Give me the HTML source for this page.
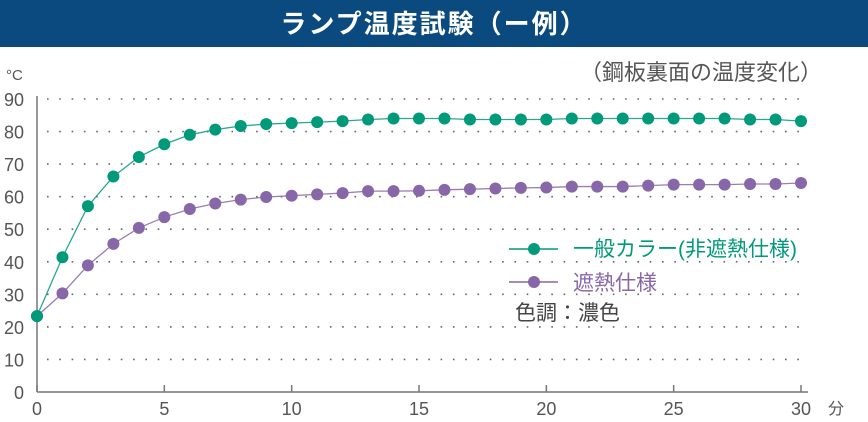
<!DOCTYPE html>
<html><head><meta charset="utf-8"><style>
body{margin:0;background:#fff;}
svg text{font-family:"Liberation Sans","Noto Sans CJK JP",sans-serif;}
</style></head><body>
<svg width="868" height="417" viewBox="0 0 868 417" xmlns="http://www.w3.org/2000/svg">
<rect x="0" y="0" width="868" height="47" fill="#0b4a7e"/>
<text x="434" y="33" text-anchor="middle" fill="#fff" font-size="26" font-weight="bold" letter-spacing="2">ランプ温度試験（ー例）</text>
<text x="822" y="80" text-anchor="end" fill="#555" font-size="22">（鋼板裏面の温度変化）</text>
<text x="6" y="80" fill="#555" font-size="15">°C</text>
<text x="828" y="414" fill="#555" font-size="16">分</text>
<g id="grid"></g><g id="axes"></g><g id="series"></g>
<g>
<line x1="509" y1="249" x2="558" y2="249" stroke="#009a7a" stroke-width="1.5"/>
<circle cx="534" cy="249" r="6" fill="#009a7a"/>
<text x="573" y="256" fill="#009a7a" font-size="21">一般カラー(非遮熱仕様)</text>
<line x1="509" y1="282" x2="558" y2="282" stroke="#8767a8" stroke-width="1.5"/>
<circle cx="534" cy="282" r="6" fill="#8767a8"/>
<text x="573" y="290" fill="#8767a8" font-size="21">遮熱仕様</text>
<text x="515" y="320" fill="#444" font-size="21">色調：濃色</text>
</g>
</svg>
<script>
const minutes=[0,1,2,3,4,5,6,7,8,9,10,11,12,13,14,15,16,17,18,19,20,21,22,23,24,25,26,27,28,29,30];
const standardTemps=[23.3,41.4,57.1,66.2,72.2,76.1,79.0,80.6,81.7,82.3,82.6,82.9,83.2,83.7,84.0,84.0,84.0,83.7,83.7,83.7,83.7,84.0,84.0,84.0,84.0,84.0,84.0,84.0,83.7,83.7,83.2];
const heatShieldTemps=[23.3,30.3,38.9,45.5,50.4,53.7,56.2,57.9,59.1,59.9,60.3,60.7,61.1,61.7,61.7,61.8,62.1,62.3,62.5,62.7,62.8,63.1,63.1,63.1,63.4,63.7,63.7,63.7,63.9,63.9,64.2];
const yTicks=[0,10,20,30,40,50,60,70,80,90];
const xTicks=[0,5,10,15,20,25,30];
const NS="http://www.w3.org/2000/svg";
const X0=37,X1=801,Y0=392,Y1=99;
function xs(v){return X0+(X1-X0)*v/30;}
function ys(v){return Y0-(Y0-Y1)*v/90;}
function mk(tag,attrs,parent){const e=document.createElementNS(NS,tag);for(const k in attrs)e.setAttribute(k,attrs[k]);parent.appendChild(e);return e;}
const grid=document.getElementById('grid'),axes=document.getElementById('axes'),ser=document.getElementById('series');
yTicks.forEach(t=>{
  if(t>0){const g=mk('line',{x1:X0+10,x2:X1+4,y1:ys(t),y2:ys(t),stroke:'#666','stroke-width':1.6,'stroke-dasharray':'1.6 10.7'},grid);
  
  }
  const l=mk('text',{x:24,y:ys(t)+7,'text-anchor':'end',fill:'#555','font-size':18},axes);
  l.textContent=t;
  
  
});
const ya=mk('line',{x1:X0,x2:X0,y1:96,y2:Y0,stroke:'#777','stroke-width':1.5},axes);


const xa=mk('line',{x1:X0,x2:808,y1:Y0,y2:Y0,stroke:'#777','stroke-width':1.5},axes);


xTicks.forEach(t=>{
  mk('line',{x1:xs(t),x2:xs(t),y1:Y0-7,y2:Y0,stroke:'#777','stroke-width':1.5},axes);
  const l=mk('text',{x:xs(t),y:415,'text-anchor':'middle',fill:'#555','font-size':18},axes);
  l.textContent=t;
  
  
});
function drawSeries(vals,color,name){
  const pl=mk('polyline',{points:vals.map((v,i)=>xs(minutes[i])+','+ys(v)).join(' '),fill:'none',stroke:color,'stroke-width':1.3,opacity:0.85},ser);
  
  
  vals.forEach((v,i)=>{
    const c=mk('circle',{cx:xs(minutes[i]),cy:ys(v),r:6,fill:color},ser);
    
    
  });
}
drawSeries(heatShieldTemps,'#8767a8','heat-shield');
drawSeries(standardTemps,'#009a7a','standard-color');
</script>
</body></html>
